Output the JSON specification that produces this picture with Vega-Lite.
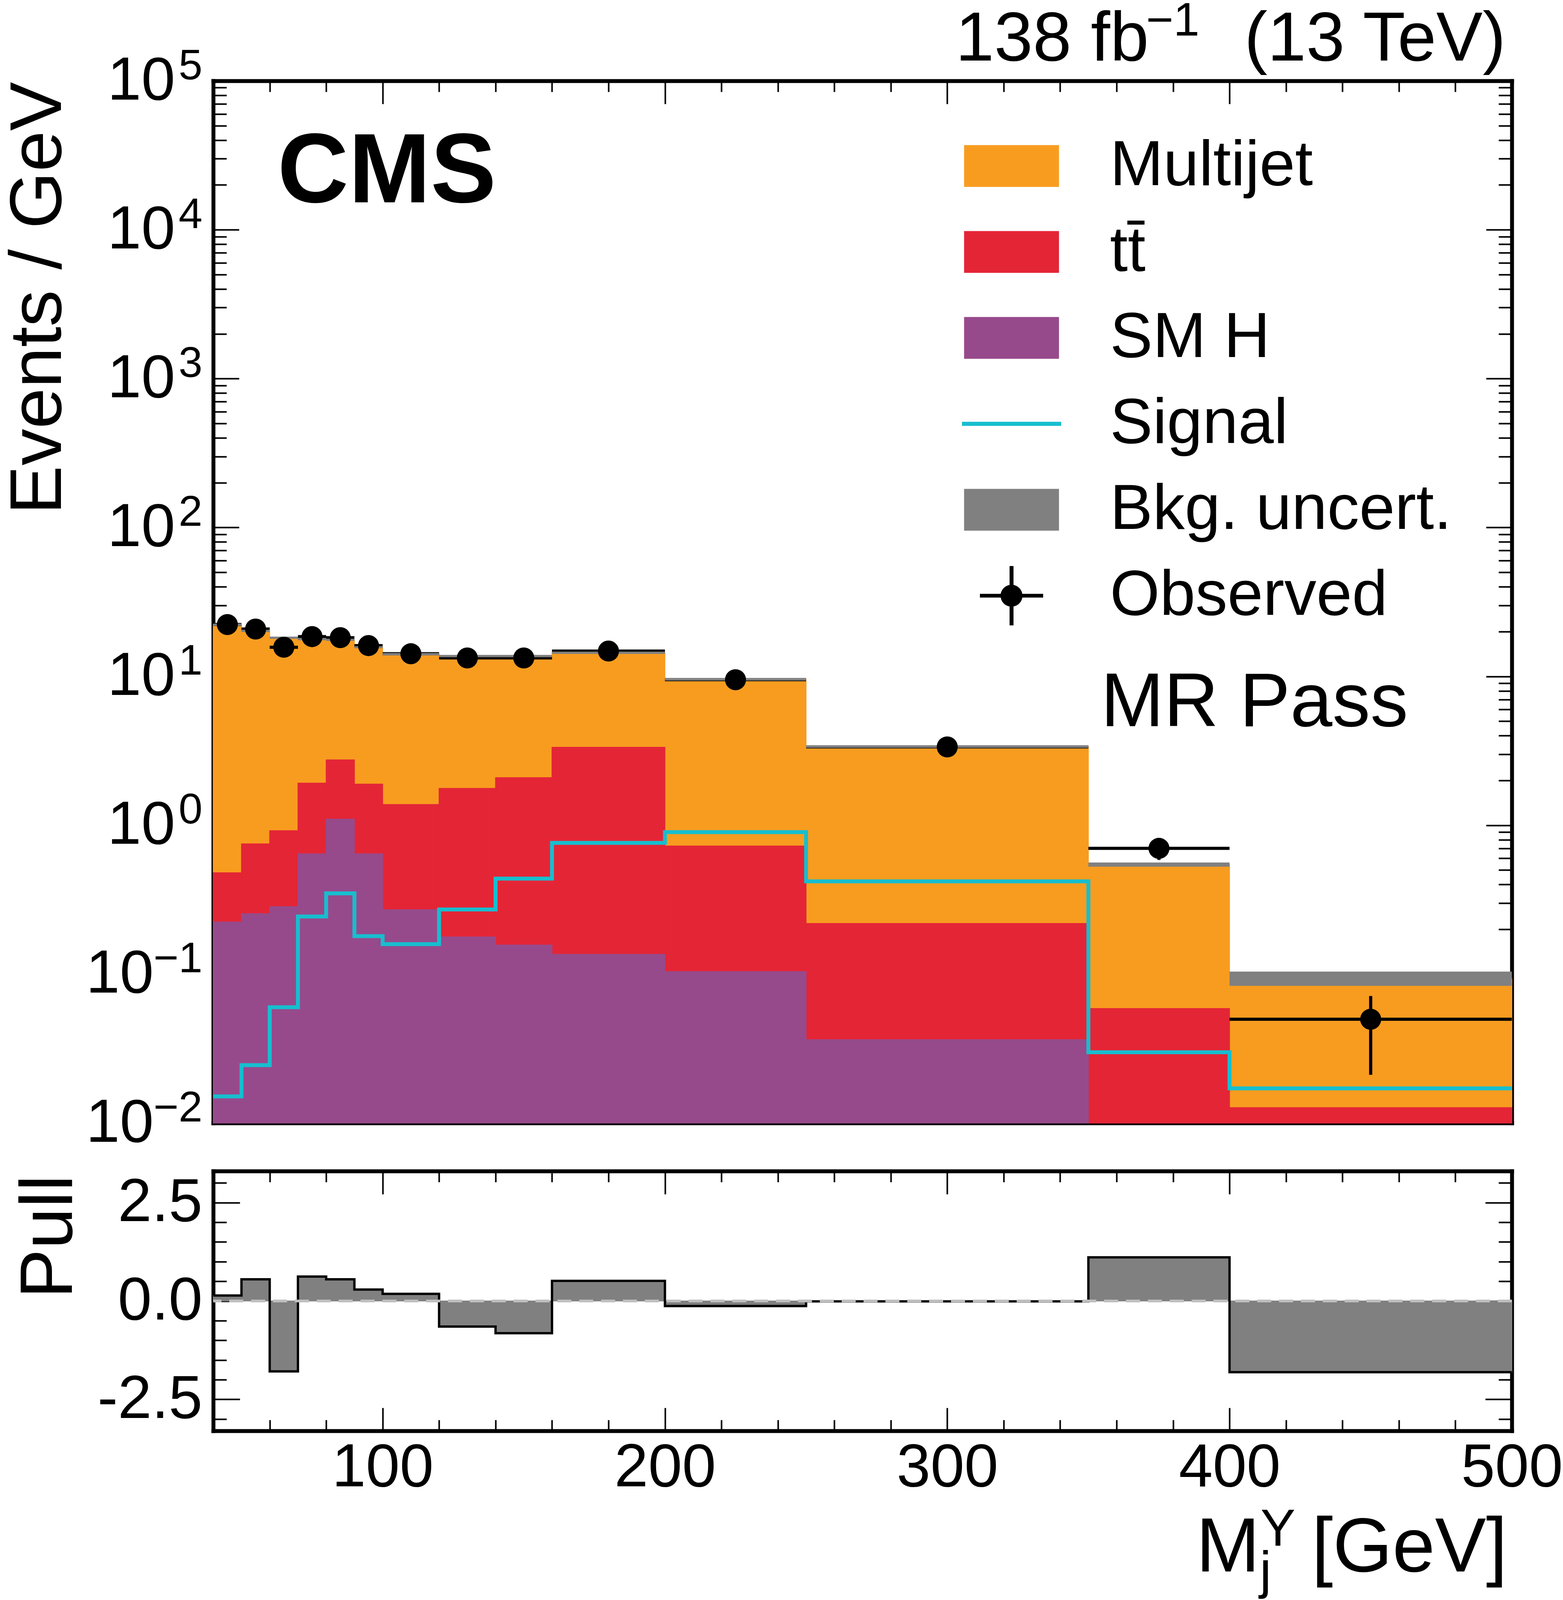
{
  "$schema": "https://vega.github.io/schema/vega-lite/v6.json",
  "description": "CMS MR Pass: Mj^Y distribution with stacked backgrounds, signal, observed data and pull panel.",
  "width": 3325,
  "height": 3456,
  "autosize": {"type": "none"},
  "padding": {"left": 546, "top": 207, "right": 131, "bottom": 676},
  "background": "#ffffff",
  "config": {
    "view": {"stroke": null},
    "font": "Liberation Sans",
    "axis": {
      "grid": false,
      "zindex": 1,
      "labelLimit": 0,
      "titleLimit": 4000,
      "labelOverlap": false,
      "labelFlush": false,
      "labelBound": false,
      "domainColor": "#000000",
      "domainWidth": 10,
      "domainCap": "square",
      "tickColor": "#000000",
      "tickWidth": 4,
      "labelColor": "#000000",
      "titleColor": "#000000",
      "labelFont": "Liberation Sans",
      "titleFont": "Liberation Sans",
      "titleFontWeight": "normal"
    }
  },
  "datasets": {
    "bins": [
      {"lo": 40, "hi": 50, "c": 45, "unc_lo": 21.8, "unc_hi": 22.6, "sig": 0.0151, "obs": 22.3, "obs_lo": 20.8, "obs_hi": 23.8, "pull": 0.14},
      {"lo": 50, "hi": 60, "c": 55, "unc_lo": 19.85, "unc_hi": 20.55, "sig": 0.0245, "obs": 20.8, "obs_lo": 19.4, "obs_hi": 22.2, "pull": 0.55},
      {"lo": 60, "hi": 70, "c": 65, "unc_lo": 17.9, "unc_hi": 18.5, "sig": 0.06, "obs": 15.7, "obs_lo": 14.45, "obs_hi": 16.95, "pull": -1.79},
      {"lo": 70, "hi": 80, "c": 75, "unc_lo": 17.5, "unc_hi": 18.1, "sig": 0.244, "obs": 18.5, "obs_lo": 17.15, "obs_hi": 19.85, "pull": 0.62},
      {"lo": 80, "hi": 90, "c": 85, "unc_lo": 17.3, "unc_hi": 17.9, "sig": 0.349, "obs": 18.2, "obs_lo": 16.85, "obs_hi": 19.55, "pull": 0.55},
      {"lo": 90, "hi": 100, "c": 95, "unc_lo": 15.45, "unc_hi": 15.95, "sig": 0.18, "obs": 16.1, "obs_lo": 14.83, "obs_hi": 17.37, "pull": 0.29},
      {"lo": 100, "hi": 120, "c": 110, "unc_lo": 13.85, "unc_hi": 14.35, "sig": 0.159, "obs": 14.2, "obs_lo": 13.36, "obs_hi": 15.04, "pull": 0.18},
      {"lo": 120, "hi": 140, "c": 130, "unc_lo": 13.45, "unc_hi": 13.95, "sig": 0.272, "obs": 13.3, "obs_lo": 12.48, "obs_hi": 14.12, "pull": -0.65},
      {"lo": 140, "hi": 160, "c": 150, "unc_lo": 13.45, "unc_hi": 13.95, "sig": 0.438, "obs": 13.3, "obs_lo": 12.48, "obs_hi": 14.12, "pull": -0.82},
      {"lo": 160, "hi": 200, "c": 180, "unc_lo": 14.15, "unc_hi": 14.65, "sig": 0.762, "obs": 14.8, "obs_lo": 14.19, "obs_hi": 15.41, "pull": 0.51},
      {"lo": 200, "hi": 250, "c": 225, "unc_lo": 9.38, "unc_hi": 9.76, "sig": 0.9, "obs": 9.5, "obs_lo": 9.06, "obs_hi": 9.94, "pull": -0.13},
      {"lo": 250, "hi": 350, "c": 300, "unc_lo": 3.31, "unc_hi": 3.45, "sig": 0.42, "obs": 3.36, "obs_lo": 3.18, "obs_hi": 3.54, "pull": -0.01},
      {"lo": 350, "hi": 400, "c": 375, "unc_lo": 0.527, "unc_hi": 0.562, "sig": 0.0299, "obs": 0.7, "obs_lo": 0.585, "obs_hi": 0.82, "pull": 1.11},
      {"lo": 400, "hi": 500, "c": 450, "unc_lo": 0.0835, "unc_hi": 0.104, "sig": 0.0171, "obs": 0.0498, "obs_lo": 0.0211, "obs_hi": 0.0713, "pull": -1.81}
    ],
    "stack": [
      {"lo": 40, "hi": 50, "process": "Multijet", "top": 22.2},
      {"lo": 50, "hi": 60, "process": "Multijet", "top": 20.2},
      {"lo": 60, "hi": 70, "process": "Multijet", "top": 18.2},
      {"lo": 70, "hi": 80, "process": "Multijet", "top": 17.8},
      {"lo": 80, "hi": 90, "process": "Multijet", "top": 17.6},
      {"lo": 90, "hi": 100, "process": "Multijet", "top": 15.7},
      {"lo": 100, "hi": 120, "process": "Multijet", "top": 14.1},
      {"lo": 120, "hi": 140, "process": "Multijet", "top": 13.7},
      {"lo": 140, "hi": 160, "process": "Multijet", "top": 13.7},
      {"lo": 160, "hi": 200, "process": "Multijet", "top": 14.4},
      {"lo": 200, "hi": 250, "process": "Multijet", "top": 9.57},
      {"lo": 250, "hi": 350, "process": "Multijet", "top": 3.38},
      {"lo": 350, "hi": 400, "process": "Multijet", "top": 0.544},
      {"lo": 400, "hi": 500, "process": "Multijet", "top": 0.093},
      {"lo": 40, "hi": 50, "process": "tt\u0304", "top": 0.48},
      {"lo": 50, "hi": 60, "process": "tt\u0304", "top": 0.75},
      {"lo": 60, "hi": 70, "process": "tt\u0304", "top": 0.92},
      {"lo": 70, "hi": 80, "process": "tt\u0304", "top": 1.92},
      {"lo": 80, "hi": 90, "process": "tt\u0304", "top": 2.75},
      {"lo": 90, "hi": 100, "process": "tt\u0304", "top": 1.89},
      {"lo": 100, "hi": 120, "process": "tt\u0304", "top": 1.38},
      {"lo": 120, "hi": 140, "process": "tt\u0304", "top": 1.77},
      {"lo": 140, "hi": 160, "process": "tt\u0304", "top": 2.09},
      {"lo": 160, "hi": 200, "process": "tt\u0304", "top": 3.34},
      {"lo": 200, "hi": 250, "process": "tt\u0304", "top": 0.726},
      {"lo": 250, "hi": 350, "process": "tt\u0304", "top": 0.219},
      {"lo": 350, "hi": 400, "process": "tt\u0304", "top": 0.0588},
      {"lo": 400, "hi": 500, "process": "tt\u0304", "top": 0.0127},
      {"lo": 40, "hi": 50, "process": "SM H", "top": 0.224},
      {"lo": 50, "hi": 60, "process": "SM H", "top": 0.255},
      {"lo": 60, "hi": 70, "process": "SM H", "top": 0.284},
      {"lo": 70, "hi": 80, "process": "SM H", "top": 0.643},
      {"lo": 80, "hi": 90, "process": "SM H", "top": 1.1},
      {"lo": 90, "hi": 100, "process": "SM H", "top": 0.643},
      {"lo": 100, "hi": 120, "process": "SM H", "top": 0.271},
      {"lo": 120, "hi": 140, "process": "SM H", "top": 0.178},
      {"lo": 140, "hi": 160, "process": "SM H", "top": 0.157},
      {"lo": 160, "hi": 200, "process": "SM H", "top": 0.136},
      {"lo": 200, "hi": 250, "process": "SM H", "top": 0.104},
      {"lo": 250, "hi": 350, "process": "SM H", "top": 0.0363}
    ]
  },
  "layer": [
    {
      "layer": [
        {
          "data": {"name": "stack"},
          "mark": {"type": "rect", "strokeWidth": 2},
          "encoding": {
            "x": {"field": "lo", "type": "quantitative", "scale": {"domain": [40, 500], "nice": false, "zero": false},
              "axis": {"orient": "bottom", "offset": -788, "values": [100, 200, 300, 400, 500], "tickSize": -59, "labels": false, "domain": true, "title": null}},
            "x2": {"field": "hi"},
            "y": {"field": "top", "type": "quantitative", "scale": {"type": "log", "domain": [0.01, 100000], "range": [2668, 0], "nice": false},
              "axis": {"orient": "left", "values": [0.01, 0.1, 1, 10, 100, 1000, 10000, 100000], "ticks": false, "domain": true, "labelExpr": "'10'", "labelAlign": "right", "labelBaseline": "middle", "labelFontSize": 156,
                "labelPadding": {"condition": {"test": "datum.value < 1", "value": 153}, "value": 98},
                "title": "Events / GeV", "titleX": -391, "titleY": 2, "titleAngle": -90, "titleAlign": "right", "titleBaseline": "alphabetic", "titleFontSize": 188}},
            "y2": {"datum": 0.01},
            "fill": {"field": "process", "type": "nominal",
              "scale": {"domain": ["Multijet", "tt\u0304", "SM H", "Signal", "Bkg. uncert.", "Observed"], "range": ["#f89c20", "#e42536", "#964a8b", "#17becf", "#808080", "#000000"]},
              "legend": {"orient": "none", "legendX": 1927, "legendY": 101, "title": null, "padding": 0, "symbolSize": 54756, "symbolStrokeWidth": 0, "symbolOpacity": 1,
                "labelFontSize": 164, "labelFont": "Liberation Sans", "labelColor": "#000000", "labelOffset": 135, "labelLimit": 0, "rowPadding": 21,
                "encode": {"symbols": {"update": {"shape": {"signal": "datum.value === 'Signal' ? 'M-1.085,-0.045H1.085V0.045H-1.085Z' : datum.value === 'Observed' ? 'M-0.24,0A0.24,0.24,0,1,1,0.24,0A0.24,0.24,0,1,1,-0.24,0ZM-0.692,-0.041H0.692V0.041H-0.692ZM-0.043,-0.65H0.043V0.65H-0.043Z' : 'M-1.0385,-0.457H1.0385V0.457H-1.0385Z'"}}}}}},
            "stroke": {"field": "process", "type": "nominal",
              "scale": {"domain": ["Multijet", "tt\u0304", "SM H", "Signal", "Bkg. uncert.", "Observed"], "range": ["#f89c20", "#e42536", "#964a8b", "#17becf", "#808080", "#000000"]},
              "legend": null}
          }
        },
        {
          "data": {"name": "bins"},
          "transform": [{"fold": ["lo", "hi"], "as": ["edge", "xe"]}],
          "mark": {"type": "line", "color": "#17becf", "strokeWidth": 10},
          "encoding": {
            "x": {"field": "xe", "type": "quantitative", "scale": {"domain": [40, 500], "nice": false, "zero": false},
              "axis": {"orient": "top", "offset": 0, "values": [100, 200, 300, 400, 500], "tickSize": -59, "labels": false, "domain": true,
                "title": "\u22121", "titleX": 2388, "titleY": -117, "titleAngle": 0, "titleAlign": "left", "titleBaseline": "alphabetic", "titleFontSize": 120}},
            "y": {"field": "sig", "type": "quantitative", "scale": {"type": "log", "domain": [0.01, 100000], "range": [2668, 0], "nice": false},
              "axis": {"orient": "left", "values": [0.02, 0.03, 0.04, 0.05, 0.06, 0.07, 0.08, 0.09, 0.2, 0.3, 0.4, 0.5, 0.6, 0.7, 0.8, 0.9, 2, 3, 4, 5, 6, 7, 8, 9, 20, 30, 40, 50, 60, 70, 80, 90, 200, 300, 400, 500, 600, 700, 800, 900, 2000, 3000, 4000, 5000, 6000, 7000, 8000, 9000, 20000, 30000, 40000, 50000, 60000, 70000, 80000, 90000],
                "tickSize": -34, "labels": false, "domain": false,
                "title": "MR Pass", "titleX": 2272, "titleY": 1651, "titleAngle": 0, "titleAlign": "left", "titleBaseline": "alphabetic", "titleFontSize": 194}},
            "order": [{"field": "xe", "type": "quantitative"}, {"field": "edge", "type": "ordinal"}]
          }
        },
        {
          "data": {"name": "bins"},
          "mark": {"type": "rule", "color": "#000000", "strokeWidth": 8},
          "encoding": {
            "x": {"field": "lo", "type": "quantitative", "scale": {"domain": [40, 500], "nice": false, "zero": false},
              "axis": {"orient": "top", "values": [60, 80, 120, 140, 160, 180, 220, 240, 260, 280, 320, 340, 360, 380, 420, 440, 460, 480], "tickSize": -28, "labels": false, "domain": false, "title": null}},
            "x2": {"field": "hi"},
            "y": {"field": "obs", "type": "quantitative", "scale": {"type": "log", "domain": [0.01, 100000], "range": [2668, 0], "nice": false},
              "axis": {"orient": "left", "values": [0.01, 0.1, 1, 10, 100, 1000, 10000, 100000], "ticks": false, "domain": false,
                "labelExpr": "datum.value > 50000 ? '5' : datum.value > 5000 ? '4' : datum.value > 500 ? '3' : datum.value > 50 ? '2' : datum.value > 5 ? '1' : datum.value > 0.5 ? '0' : datum.value > 0.05 ? '\u22121' : '\u22122'",
                "labelAlign": "right", "labelBaseline": "middle", "labelFontSize": 110, "labelPadding": 28, "labelOffset": -38, "title": null}}
          }
        },
        {
          "data": {"name": "bins"},
          "mark": {"type": "rule", "color": "#000000", "strokeWidth": 8},
          "encoding": {
            "x": {"field": "c", "type": "quantitative", "scale": {"domain": [40, 500], "nice": false, "zero": false},
              "axis": {"orient": "bottom", "offset": 0, "values": [100, 200, 300, 400, 500], "tickSize": -59, "labels": true, "format": "d", "labelFontSize": 156, "labelPadding": 200, "labelBaseline": "alphabetic", "labelAlign": "center", "domain": true,
                "title": "M", "titleX": 2516, "titleY": 359, "titleAngle": 0, "titleAlign": "left", "titleBaseline": "alphabetic", "titleFontSize": 196}},
            "y": {"field": "obs_lo", "type": "quantitative", "scale": {"type": "log", "domain": [0.01, 100000], "range": [2668, 0], "nice": false},
              "axis": {"orient": "right", "values": [0.01, 0.1, 1, 10, 100, 1000, 10000, 100000], "tickSize": -66, "labels": false, "domain": true,
                "title": "(13 TeV)", "titleX": -16, "titleY": -53, "titleAngle": 0, "titleAlign": "right", "titleBaseline": "alphabetic", "titleFontSize": 178}},
            "y2": {"field": "obs_hi"}
          }
        },
        {
          "data": {"name": "bins"},
          "mark": {"type": "rect", "color": "#808080"},
          "encoding": {
            "x": {"field": "lo", "type": "quantitative", "scale": {"domain": [40, 500], "nice": false, "zero": false},
              "axis": {"orient": "bottom", "offset": -788, "values": [60, 80, 120, 140, 160, 180, 220, 240, 260, 280, 320, 340, 360, 380, 420, 440, 460, 480], "tickSize": -28, "labels": false, "domain": false, "title": null}},
            "x2": {"field": "hi"},
            "y": {"field": "unc_lo", "type": "quantitative", "scale": {"type": "log", "domain": [0.01, 100000], "range": [2668, 0], "nice": false},
              "axis": {"orient": "left", "values": [0.01, 0.1, 1, 10, 100, 1000, 10000, 100000], "tickSize": -66, "labels": false, "domain": false,
                "title": "CMS", "titleX": 164, "titleY": 310, "titleAngle": 0, "titleAlign": "left", "titleBaseline": "alphabetic", "titleFontSize": 252, "titleFontWeight": "bold"}},
            "y2": {"field": "unc_hi"}
          }
        },
        {
          "data": {"name": "bins"},
          "mark": {"type": "point", "filled": true, "shape": "circle", "size": 2900, "color": "#000000", "opacity": 1},
          "encoding": {
            "x": {"field": "c", "type": "quantitative", "scale": {"domain": [40, 500], "nice": false, "zero": false},
              "axis": {"orient": "bottom", "offset": 0, "values": [60, 80, 120, 140, 160, 180, 220, 240, 260, 280, 320, 340, 360, 380, 420, 440, 460, 480], "tickSize": -28, "labels": false, "domain": false,
                "title": "[GeV]", "titleX": 3313, "titleY": 359, "titleAngle": 0, "titleAlign": "right", "titleBaseline": "alphabetic", "titleFontSize": 196}},
            "y": {"field": "obs", "type": "quantitative", "scale": {"type": "log", "domain": [0.01, 100000], "range": [2668, 0], "nice": false},
              "axis": {"orient": "right", "values": [0.02, 0.03, 0.04, 0.05, 0.06, 0.07, 0.08, 0.09, 0.2, 0.3, 0.4, 0.5, 0.6, 0.7, 0.8, 0.9, 2, 3, 4, 5, 6, 7, 8, 9, 20, 30, 40, 50, 60, 70, 80, 90, 200, 300, 400, 500, 600, 700, 800, 900, 2000, 3000, 4000, 5000, 6000, 7000, 8000, 9000, 20000, 30000, 40000, 50000, 60000, 70000, 80000, 90000],
                "tickSize": -34, "labels": false, "domain": false,
                "title": "138 fb", "titleX": -930, "titleY": -53, "titleAngle": 0, "titleAlign": "right", "titleBaseline": "alphabetic", "titleFontSize": 178}}
          }
        }
      ],
      "resolve": {"axis": {"x": "independent", "y": "independent"}}
    },
    {
      "layer": [
        {
          "data": {"name": "bins"},
          "mark": {"type": "rect", "color": "#808080", "stroke": "#808080", "strokeWidth": 2},
          "encoding": {
            "x": {"field": "lo", "type": "quantitative", "scale": {"domain": [40, 500], "nice": false, "zero": false},
              "axis": {"orient": "top", "offset": -2791, "values": [100, 200, 300, 400, 500], "tickSize": -59, "labels": false, "domain": true,
                "title": "Y", "titleX": 2681, "titleY": 958, "titleAngle": 0, "titleAlign": "left", "titleBaseline": "alphabetic", "titleFontSize": 134}},
            "x2": {"field": "hi"},
            "y": {"field": "pull", "type": "quantitative", "scale": {"domain": [-3.3, 3.3], "range": [3456, 2791], "nice": false, "zero": false},
              "axis": {"orient": "left", "values": [-2.5, 0, 2.5], "tickSize": -68, "labels": true, "labelExpr": "datum.value > 1 ? '2.5' : datum.value < -1 ? '-2.5' : '0.0'", "labelAlign": "right", "labelBaseline": "middle", "labelFontSize": 156, "labelPadding": 96, "domain": true,
                "title": "Pull", "titleX": -363, "titleY": 2800, "titleAngle": -90, "titleAlign": "right", "titleBaseline": "alphabetic", "titleFontSize": 190}},
            "y2": {"datum": 0}
          }
        },
        {
          "data": {"name": "bins"},
          "transform": [{"fold": ["lo", "hi"], "as": ["edge", "xe"]}],
          "mark": {"type": "line", "color": "#000000", "strokeWidth": 6},
          "encoding": {
            "x": {"field": "xe", "type": "quantitative", "scale": {"domain": [40, 500], "nice": false, "zero": false},
              "axis": {"orient": "top", "offset": -2791, "values": [60, 80, 120, 140, 160, 180, 220, 240, 260, 280, 320, 340, 360, 380, 420, 440, 460, 480], "tickSize": -28, "labels": false, "domain": false,
                "title": "j", "titleX": 2679, "titleY": 1066, "titleAngle": 0, "titleAlign": "left", "titleBaseline": "alphabetic", "titleFontSize": 134}},
            "y": {"field": "pull", "type": "quantitative", "scale": {"domain": [-3.3, 3.3], "range": [3456, 2791], "nice": false, "zero": false},
              "axis": {"orient": "left", "values": [-3, -2, -1.5, -1, -0.5, 0.5, 1, 1.5, 2, 3], "tickSize": -34, "labels": false, "domain": false, "title": null}},
            "order": [{"field": "xe", "type": "quantitative"}, {"field": "edge", "type": "ordinal"}]
          }
        },
        {
          "data": {"values": [{}]},
          "mark": {"type": "rule", "color": "#bfbfbf", "strokeWidth": 7, "strokeDash": [36, 20]},
          "encoding": {
            "y": {"datum": 0, "type": "quantitative", "scale": {"domain": [-3.3, 3.3], "range": [3456, 2791], "nice": false, "zero": false},
              "axis": {"orient": "right", "values": [-2.5, 0, 2.5], "tickSize": -68, "labels": false, "domain": true, "title": null}}
          }
        },
        {
          "data": {"values": [{}]},
          "mark": {"type": "rule", "opacity": 0},
          "encoding": {
            "y": {"datum": 0, "type": "quantitative", "scale": {"domain": [-3.3, 3.3], "range": [3456, 2791], "nice": false, "zero": false},
              "axis": {"orient": "right", "values": [-3, -2, -1.5, -1, -0.5, 0.5, 1, 1.5, 2, 3], "tickSize": -34, "labels": false, "domain": false, "title": null}}
          }
        }
      ],
      "resolve": {"axis": {"x": "independent", "y": "independent"}}
    }
  ],
  "resolve": {"scale": {"y": "independent"}, "axis": {"x": "independent", "y": "independent"}}
}
